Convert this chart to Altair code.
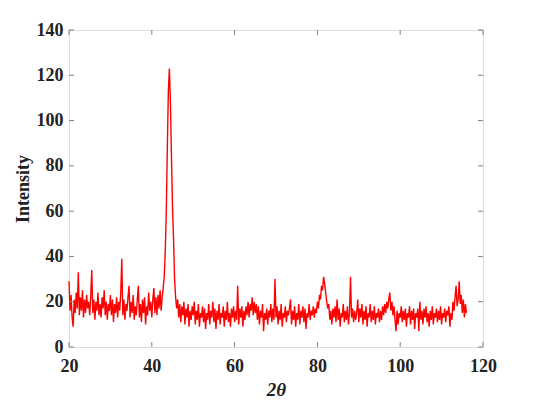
import altair as alt
import pandas as pd

# 2-theta grid
x_start = 20.0
x_step = 0.25

intensity = [
    # 20.00 - 24.75
    29, 16, 23, 13, 9, 21, 15, 24, 17, 33, 14, 22, 16, 25, 13, 21, 15, 23, 17, 20,
    # 25.00 - 29.75
    14, 22, 34, 15, 21, 12, 20, 16, 24, 14, 19, 13, 22, 17, 25, 14, 20, 12, 19, 16,
    # 30.00 - 34.75
    23, 14, 21, 11, 19, 15, 22, 13, 20, 16, 24, 39, 14, 21, 12, 19, 16, 22, 27, 13,
    # 35.00 - 39.75
    20, 15, 23, 12, 18, 14, 21, 27, 13, 19, 11, 21, 15, 22, 10, 18, 14, 24, 16, 20,
    # 40.00 - 44.75
    13, 21, 26, 15, 22, 14, 23, 17, 25, 16, 22, 26, 31, 42, 60, 88, 113, 123, 108, 84,
    # 45.00 - 49.75
    62, 48, 30, 22, 17, 21, 13, 19, 11, 18, 14, 20, 10, 17, 13, 19, 9, 16, 12, 18,
    # 50.00 - 54.75
    14, 20, 10, 16, 12, 19, 9, 15, 13, 18, 11, 17, 8, 15, 12, 19, 10, 16, 13, 20,
    # 55.00 - 59.75
    11, 17, 8, 16, 12, 19, 10, 15, 13, 18, 9, 16, 12, 20, 11, 15, 9, 17, 13, 18,
    # 60.00 - 64.75
    11, 16, 12, 27, 10, 17, 13, 18, 9, 16, 12, 18, 14, 20, 13, 19, 16, 22, 14, 20,
    # 65.00 - 69.75
    15, 19, 12, 18, 10, 16, 13, 19, 7, 15, 12, 17, 10, 16, 13, 19, 11, 17, 12, 30,
    # 70.00 - 74.75
    13, 18, 10, 16, 12, 19, 9, 15, 13, 18, 11, 16, 14, 17, 21, 10, 16, 12, 18, 9,
    # 75.00 - 79.75
    15, 12, 19, 10, 16, 13, 18, 11, 17, 8, 15, 13, 19, 12, 16, 14, 18, 13, 17, 15,
    # 80.00 - 84.75
    20, 17, 23, 21, 27, 25, 31, 28, 24, 20, 17, 19, 12, 16, 10, 17, 13, 18, 11, 21,
    # 85.00 - 89.75
    12, 17, 9, 15, 13, 19, 11, 16, 12, 18, 10, 15, 31, 13, 17, 11, 16, 12, 15, 21,
    # 90.00 - 94.75
    11, 17, 13, 19, 10, 16, 12, 18, 9, 15, 13, 19, 11, 16, 12, 18, 10, 15, 13, 17,
    # 95.00 - 99.75
    11, 16, 12, 18, 14, 19, 15, 20, 17, 21, 24, 16, 20, 14, 18, 12, 7, 16, 10, 15,
    # 100.00 - 104.75
    13, 18, 11, 16, 12, 17, 9, 15, 13, 18, 10, 16, 12, 17, 8, 15, 13, 17, 7, 20,
    # 105.00 - 109.75
    12, 16, 10, 17, 13, 18, 11, 15, 9, 16, 12, 18, 10, 15, 13, 17, 11, 16, 12, 18,
    # 110.00 - 114.75
    10, 15, 13, 17, 11, 16, 14, 18, 9, 15, 12, 20, 16, 22, 27, 18, 21, 29, 19, 23,
    # 115.00 - 116.00
    15, 21, 13, 19, 15,
]

x_ticks = [20, 40, 60, 80, 100, 120]
y_ticks = [0, 20, 40, 60, 80, 100, 120, 140]

two_theta = [x_start + x_step * i for i in range(len(intensity))]
df = pd.DataFrame({"two_theta": two_theta, "intensity": intensity})
xt = pd.DataFrame({"two_theta": x_ticks})
yt = pd.DataFrame({"intensity": y_ticks})

W, H = 414, 317
FONT = "Liberation Serif"
FRAME = "#808080"
TICK_LEN = 5

x_scale = alt.Scale(domain=[20, 120], nice=False, zero=False)
y_scale = alt.Scale(domain=[0, 140], nice=False)

x_axis = alt.Axis(
    values=x_ticks, title="2θ", grid=False, ticks=False, tickSize=0, domain=False,
    labelFlush=False, labelOverlap=False,
    labelFont=FONT, labelFontSize=18, labelFontWeight="bold", labelColor="#222222",
    labelPadding=10, titleFont=FONT, titleFontSize=19, titleFontWeight="bold",
    titleFontStyle="italic", titleColor="#222222", titlePadding=5,
)
y_axis = alt.Axis(
    values=y_ticks, title="Intensity", grid=False, ticks=False, tickSize=0, domain=False,
    labelFlush=False, labelOverlap=False,
    labelFont=FONT, labelFontSize=18, labelFontWeight="bold", labelColor="#222222",
    labelPadding=6, titleFont=FONT, titleFontSize=18, titleFontWeight="bold",
    titleColor="#222222", titlePadding=4,
)

X = alt.X("two_theta:Q", scale=x_scale, axis=x_axis)
Y = alt.Y("intensity:Q", scale=y_scale, axis=y_axis)

line = alt.Chart(df).mark_line(color="#ff0000", strokeWidth=1.4).encode(x=X, y=Y)

bottom_ticks = alt.Chart(xt).mark_rule(color=FRAME, strokeWidth=1).encode(
    x=X, y=alt.value(H), y2=alt.value(H - TICK_LEN))
top_ticks = alt.Chart(xt).mark_rule(color=FRAME, strokeWidth=1).encode(
    x=X, y=alt.value(0), y2=alt.value(TICK_LEN))
left_ticks = alt.Chart(yt).mark_rule(color=FRAME, strokeWidth=1).encode(
    y=Y, x=alt.value(0), x2=alt.value(TICK_LEN))
right_ticks = alt.Chart(yt).mark_rule(color=FRAME, strokeWidth=1).encode(
    y=Y, x=alt.value(W), x2=alt.value(W - TICK_LEN))

chart = alt.layer(line, bottom_ticks, top_ticks, left_ticks, right_ticks).properties(
    width=W, height=H,
    autosize=alt.AutoSizeParams(type="none"),
    padding={"left": 61, "top": 22, "right": 42, "bottom": 52},
).configure_view(stroke=FRAME, strokeWidth=1).configure(background="white")

chart.save("out.html", embed_options={"renderer": "svg", "actions": False})
